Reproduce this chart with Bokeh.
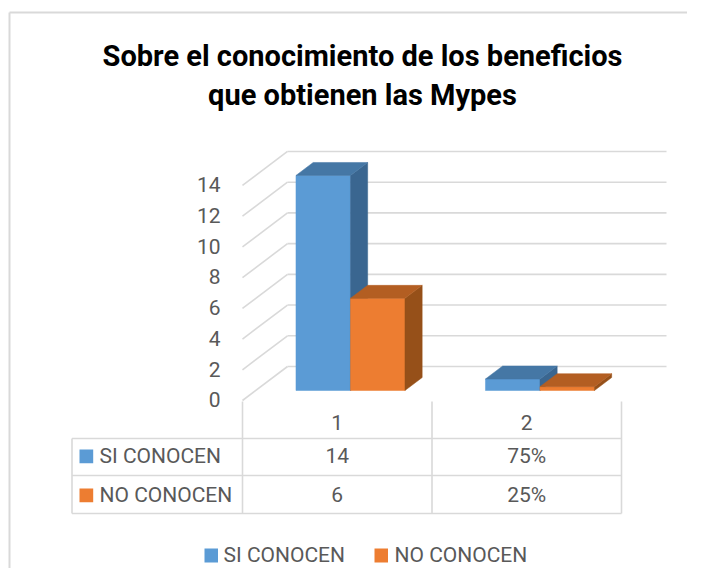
from bokeh.plotting import figure
from bokeh.models import Range1d, ColumnDataSource
from bokeh.core.properties import value
from bokeh.embed import file_html
from bokeh.resources import INLINE

# ---------------- data ----------------
categories = ["1", "2"]
series_names = ["SI CONOCEN", "NO CONOCEN"]
si_values = [14, 0.75]
no_values = [6, 0.25]
si_labels = ["14", "75%"]
no_labels = ["6", "25%"]
y_ticks = [0, 2, 4, 6, 8, 10, 12, 14]
title_lines = ["Sobre el conocimiento de los beneficios", "que obtienen las Mypes"]

# ---------------- styles / layout ----------------
FRONT = ["#5B9BD5", "#ED7D31"]
TOP = ["#4577A5", "#B35E22"]
SIDE = ["#3A6690", "#965019"]
GRID = "#D9D9D9"
TXT = "#595959"
FONT = "Roboto"

W, H = 687, 568
X0, Y0 = 242.0, 400.0     # px of front-left floor corner
SX, SY = 189.5, 15.36     # px per category unit, px per value unit
DDX = 45.0 / SX           # full depth offset in data units
DDY = 34.0 / SY
DF, DB = 0.294, 0.676     # bar front/back depth fraction
BW = 54.5 / SX            # bar width
TB = 8.0                  # text baseline correction (px)


def dx(px):
    return (px - X0) / SX


def dy(py):
    return (Y0 - py) / SY


def ty(py):
    return dy(py - TB)


def X(x, d):
    return x + d * DDX


def Y(v, d):
    return v + d * DDY


p = figure(width=W, height=H, output_backend="svg", toolbar_location=None,
           x_range=Range1d(dx(0), dx(W)), y_range=Range1d(dy(H), dy(0)),
           min_border=0)
p.axis.visible = False
p.grid.visible = False
p.outline_line_color = None
p.background_fill_color = "white"
p.border_fill_color = "white"

# chart border (left and top)
p.segment(x0=[dx(9), dx(9)], y0=[dy(12), dy(12)], x1=[dx(9), dx(W)], y1=[dy(H), dy(12)],
          line_color=GRID, line_width=2)

ncat = len(categories)
# back wall gridlines and left-wall diagonals
p.segment(x0=[X(0, 1)] * len(y_ticks), y0=[Y(v, 1) for v in y_ticks],
          x1=[X(ncat, 1)] * len(y_ticks), y1=[Y(v, 1) for v in y_ticks],
          line_color=GRID, line_width=1.6)
p.segment(x0=[X(0, 0)] * len(y_ticks), y0=[Y(v, 0) for v in y_ticks],
          x1=[X(0, 1)] * len(y_ticks), y1=[Y(v, 1) for v in y_ticks],
          line_color=GRID, line_width=1.6)

# y tick labels
p.text(x=[dx(220)] * len(y_ticks), y=[Y(v, 0) - (7.3 - TB) / SY for v in y_ticks],
       text=[str(v) for v in y_ticks], text_font=value(FONT), text_font_size="21px",
       text_color=TXT, text_align="right", text_baseline="alphabetic")

# 3D bars
xs, ys, cols = [], [], []
for i in range(ncat):
    c = i + 0.5
    for s, vals in enumerate([si_values, no_values]):
        v = vals[i]
        x0 = c - BW if s == 0 else c
        x1 = x0 + BW
        # front
        xs.append([X(x0, DF), X(x1, DF), X(x1, DF), X(x0, DF)])
        ys.append([Y(0, DF), Y(0, DF), Y(v, DF), Y(v, DF)])
        cols.append(FRONT[s])
        # side
        xs.append([X(x1, DF), X(x1, DB), X(x1, DB), X(x1, DF)])
        ys.append([Y(0, DF), Y(0, DB), Y(v, DB), Y(v, DF)])
        cols.append(SIDE[s])
        # top
        xs.append([X(x0, DF), X(x1, DF), X(x1, DB), X(x0, DB)])
        ys.append([Y(v, DF), Y(v, DF), Y(v, DB), Y(v, DB)])
        cols.append(TOP[s])
p.patches(xs="xs", ys="ys", fill_color="c", line_color="c", line_width=0.5,
          source=ColumnDataSource(dict(xs=xs, ys=ys, c=cols)))

# data table
rows_y = [438, 475, 513]
p.segment(x0=[float(i) for i in range(ncat + 1)], y0=[dy(401)] * (ncat + 1),
          x1=[float(i) for i in range(ncat + 1)], y1=[dy(rows_y[-1])] * (ncat + 1),
          line_color=GRID, line_width=1.6)
p.segment(x0=[dx(71.5)], y0=[dy(rows_y[0])], x1=[dx(71.5)], y1=[dy(rows_y[-1])],
          line_color=GRID, line_width=1.6)
p.segment(x0=[dx(71.5)] * 3, y0=[dy(r) for r in rows_y], x1=[float(ncat)] * 3,
          y1=[dy(r) for r in rows_y], line_color=GRID, line_width=1.6)

cx = [i + 0.5 for i in range(ncat)]
p.text(x=cx, y=[ty(430)] * ncat, text=categories, text_font=value(FONT), text_font_size="21px",
       text_color=TXT, text_align="center", text_baseline="alphabetic")
p.text(x=cx, y=[ty(463)] * ncat, text=si_labels, text_font=value(FONT), text_font_size="21px",
       text_color=TXT, text_align="center", text_baseline="alphabetic")
p.text(x=cx, y=[ty(502)] * ncat, text=no_labels, text_font=value(FONT), text_font_size="21px",
       text_color=TXT, text_align="center", text_baseline="alphabetic")

# row labels with keys
p.quad(left=[dx(79)] * 2, right=[dx(92.7)] * 2, top=[dy(449), dy(488)], bottom=[dy(462.7), dy(501.7)],
       fill_color=FRONT, line_color=None)
p.text(x=[dx(99)] * 2, y=[ty(463), ty(502)], text=series_names, text_font=value(FONT),
       text_font_size="21px", text_color=TXT, text_align="left", text_baseline="alphabetic")

# legend
p.quad(left=[dx(204), dx(374)], right=[dx(217.5), dx(387.5)], top=[dy(548)] * 2, bottom=[dy(562)] * 2,
       fill_color=FRONT, line_color=None)
p.text(x=[dx(223), dx(394)], y=[ty(562)] * 2, text=series_names, text_font=value(FONT),
       text_font_size="21px", text_color=TXT, text_align="left", text_baseline="alphabetic")

# title
p.text(x=[dx(362)] * 2, y=[ty(63), ty(102)], text=title_lines, text_font=value(FONT),
       text_font_size="29px", text_font_style="bold", text_color="black",
       text_align="center", text_baseline="alphabetic")

open("out.html", "w").write(file_html(p, INLINE))
